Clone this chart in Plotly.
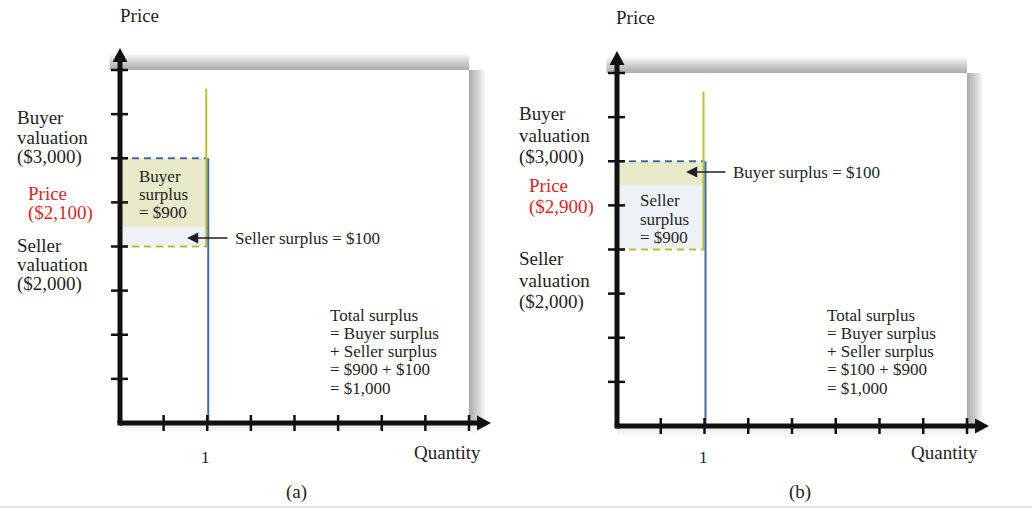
import plotly.graph_objects as go

# values
panel_names = ["(a)", "(b)"]
quantity = 1
buyer_valuation = 3000
seller_valuation = 2000
price_drawn = [2220, 2730]          # where the split between the two areas is drawn
price_text = ["($2,100)", "($2,900)"]
demand_top = 3790
y_max = 4000
x_max = 4
y_ticks = [500, 1000, 1500, 2000, 2500, 3000, 3500, 4000]
x_ticks = [0.5, 1, 1.5, 2, 2.5, 3, 3.5, 4]
x_tick_labels = {1: "1"}
surplus_box = [["Buyer", "surplus", "= $900"], ["Seller", "surplus", "= $900"]]
surplus_arrow = ["Seller surplus = $100", "Buyer surplus = $100"]
total_text = [
    ["Total surplus", "= Buyer surplus", "+ Seller surplus", "= $900 + $100", "= $1,000"],
    ["Total surplus", "= Buyer surplus", "+ Seller surplus", "= $100 + $900", "= $1,000"],
]

FONT = "Liberation Serif"
INK = "#231f20"
RED = "#e31e24"
GREEN = "#b5c22c"
BLUE = "#4169b0"
BUYER_FILL = "#e8e9c8"
SELLER_FILL = "#eef2f7"

W, H = 1032, 508
ML, MR, MT, MB = 120, 65, 70, 82
PW, PH = W - ML - MR, H - MT - MB


def px(x):
    return (x - ML) / PW


def py(y):
    return (H - MB - y) / PH


fig = go.Figure()
shapes = []
annotations = []

x_domains = [[px(120), px(469)], [px(617), px(967)]]
y_domains = [[py(423), py(70)], [py(426), py(73)]]


def label(text, x, y, size=19, color=INK, anchor="left"):
    annotations.append(dict(text=text, x=px(x), y=py(y), xref="paper", yref="paper",
                            xanchor=anchor, yanchor="middle", showarrow=False,
                            font=dict(family=FONT, size=size, color=color)))


def lines(texts, x, y0, step, size=19, color=INK, anchor="left"):
    for i, t in enumerate(texts):
        label(t, x, y0 + i * step, size, color, anchor)


for i in range(2):
    s = "" if i == 0 else "2"
    xa, ya = "x" + s, "y" + s
    xd, yd = xa + " domain", ya + " domain"
    p = price_drawn[i]

    # surplus areas
    fig.add_trace(go.Scatter(x=[0, quantity, quantity, 0, 0], y=[p, p, buyer_valuation, buyer_valuation, p],
                             fill="toself", fillcolor=BUYER_FILL, mode="lines", line=dict(width=0),
                             xaxis=xa, yaxis=ya, hoverinfo="skip", showlegend=False))
    fig.add_trace(go.Scatter(x=[0, quantity, quantity, 0, 0],
                             y=[seller_valuation, seller_valuation, p, p, seller_valuation],
                             fill="toself", fillcolor=SELLER_FILL, mode="lines", line=dict(width=0),
                             xaxis=xa, yaxis=ya, hoverinfo="skip", showlegend=False))
    # dashed valuation lines
    fig.add_trace(go.Scatter(x=[0, quantity], y=[buyer_valuation] * 2, mode="lines",
                             line=dict(color=BLUE, width=1.8, dash="7px,5px"),
                             xaxis=xa, yaxis=ya, hoverinfo="skip", showlegend=False))
    fig.add_trace(go.Scatter(x=[0, quantity], y=[seller_valuation] * 2, mode="lines",
                             line=dict(color=GREEN, width=1.8, dash="7px,5px"),
                             xaxis=xa, yaxis=ya, hoverinfo="skip", showlegend=False))

    # demand (green) and supply (blue) verticals, side by side
    shapes.append(dict(type="line", xref=xa, yref=ya, xsizemode="pixel", xanchor=quantity,
                       x0=-1, x1=-1, y0=seller_valuation, y1=demand_top,
                       line=dict(color=GREEN, width=2)))
    shapes.append(dict(type="line", xref=xa, yref=ya, xsizemode="pixel", xanchor=quantity,
                       x0=1, x1=1, y0=0, y1=buyer_valuation,
                       line=dict(color=BLUE, width=2)))

    # soft frame shadow on top and right edges
    for k in range(1, 11):
        shapes.append(dict(type="rect", xref=xd, yref=yd, x0=-0.03, x1=1, ysizemode="pixel",
                           yanchor=1, y0=0, y1=k * 1.6, fillcolor="rgba(0,0,0,0.034)",
                           line=dict(width=0), layer="below"))
        shapes.append(dict(type="rect", xref=xd, yref=yd, y0=0, y1=1, xsizemode="pixel",
                           xanchor=1, x0=0, x1=k * 1.6, fillcolor="rgba(0,0,0,0.034)",
                           line=dict(width=0), layer="below"))
    for k in range(1, 5):
        shapes.append(dict(type="rect", xref=xd, yref=yd, x0=0, x1=1.02, ysizemode="pixel",
                           yanchor=0, y0=0, y1=-k * 2.5, fillcolor="rgba(0,0,0,0.022)",
                           line=dict(width=0), layer="below"))

    # axes with arrowheads
    shapes.append(dict(type="line", xref=xd, yref=yd, x0=0, x1=0, y0=0, y1=1,
                       line=dict(color="#111", width=5)))
    shapes.append(dict(type="line", xref=xd, yref=yd, x0=0, x1=1, y0=0, y1=0,
                       line=dict(color="#111", width=5)))
    shapes.append(dict(type="path", xref=xd, yref=yd, xsizemode="pixel", ysizemode="pixel",
                       xanchor=0, yanchor=0, path="M-2.5,-2.5 L2.5,-2.5 L2.5,2.5 L-2.5,2.5 Z",
                       fillcolor="#111", line=dict(width=0)))
    shapes.append(dict(type="path", xref=xd, yref=yd, xsizemode="pixel", ysizemode="pixel",
                       xanchor=0, yanchor=1,
                       path="M-2.5,-1 L-2.5,8 L-7.5,8 L0,22 L7.5,8 L2.5,8 L2.5,-1 Z",
                       fillcolor="#111", line=dict(width=0)))
    shapes.append(dict(type="path", xref=xd, yref=yd, xsizemode="pixel", ysizemode="pixel",
                       xanchor=1, yanchor=0,
                       path="M-1,-2.5 L8,-2.5 L8,-7.5 L22,0 L8,7.5 L8,2.5 L-1,2.5 Z",
                       fillcolor="#111", line=dict(width=0)))
    for v in y_ticks:
        shapes.append(dict(type="line", xref=xd, yref=yd, xsizemode="pixel", xanchor=0,
                           x0=-9, x1=8, y0=v / y_max, y1=v / y_max,
                           line=dict(color="#111", width=2.5)))
    for v in x_ticks:
        shapes.append(dict(type="line", xref=xd, yref=yd, ysizemode="pixel", yanchor=0,
                           y0=-8, y1=8, x0=v / x_max, x1=v / x_max,
                           line=dict(color="#111", width=2.5)))

    fig.update_layout({
        "xaxis" + s: dict(domain=x_domains[i], range=[0, x_max], visible=False, fixedrange=True,
                          anchor=ya),
        "yaxis" + s: dict(domain=y_domains[i], range=[0, y_max], visible=False, fixedrange=True,
                          anchor=xa),
    })

# ---- text, panel (a)
label("Price", 139, 16, anchor="center")
lines(["Buyer", "valuation", "($3,000)"], 15, 117, 20)
lines(["Price", price_text[0]], 26, 193, 20, color=RED)
lines(["Seller", "valuation", "($2,000)"], 15, 245, 19.5)
lines(surplus_box[0], 137, 176, 18, size=17)
label(surplus_arrow[0], 233, 238, size=17)
annotations.append(dict(x=px(187), y=py(238), xref="paper", yref="paper", ax=42, ay=0,
                        text="", showarrow=True, arrowhead=2, arrowsize=1.6, arrowwidth=1.4,
                        arrowcolor=INK))
lines(total_text[0], 328, 315, 18.3, size=17)
label("Quantity", 447, 452, anchor="center")
label(x_tick_labels[1], 205, 457, size=17, anchor="center")
label(panel_names[0], 296, 492, anchor="center")

# ---- text, panel (b)
label("Price", 635, 17, anchor="center")
lines(["Buyer", "valuation", "($3,000)"], 517, 114, 21.5)
lines(["Price", price_text[1]], 527, 185, 22, color=RED)
lines(["Seller", "valuation", "($2,000)"], 517, 258, 22)
lines(surplus_box[1], 638, 201, 18, size=17)
label(surplus_arrow[1], 731, 172, size=17)
annotations.append(dict(x=px(686), y=py(172), xref="paper", yref="paper", ax=41, ay=0,
                        text="", showarrow=True, arrowhead=2, arrowsize=1.6, arrowwidth=1.4,
                        arrowcolor=INK))
lines(total_text[1], 825, 315, 18.3, size=17)
label("Quantity", 944, 453, anchor="center")
label(x_tick_labels[1], 703, 457, size=17, anchor="center")
label(panel_names[1], 800, 492, anchor="center")

# thin page rule at the bottom
shapes.append(dict(type="line", xref="paper", yref="paper", x0=px(0), x1=px(W), y0=py(507),
                   y1=py(507), line=dict(color="#d9d9d9", width=1.5)))

fig.update_layout(
    width=W, height=H,
    margin=dict(l=ML, r=MR, t=MT, b=MB),
    paper_bgcolor="white", plot_bgcolor="white",
    shapes=shapes, annotations=annotations,
    showlegend=False,
)

fig.write_html("out.html", config={"displayModeBar": False},
               post_script="document.body.style.margin='0';")
